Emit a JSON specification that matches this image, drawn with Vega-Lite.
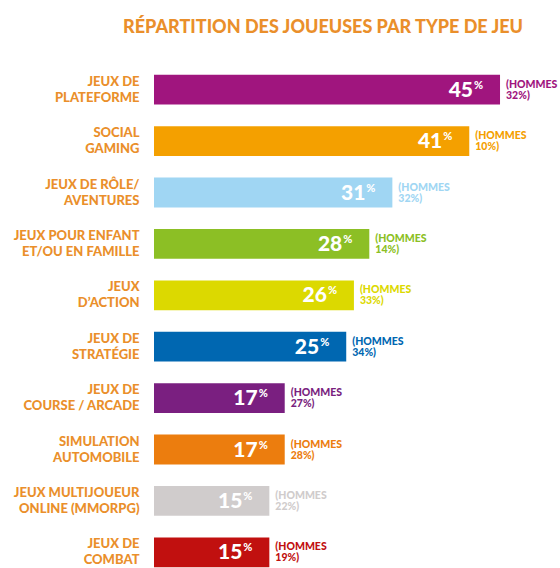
{
  "$schema": "https://vega.github.io/schema/vega-lite/v6.json",
  "width": 406,
  "height": 514,
  "autosize": {"type": "none"},
  "padding": {"left": 154, "top": 64, "right": 0, "bottom": 0},
  "background": "white",
  "title": {
    "text": "RÉPARTITION DES JOUEUSES PAR TYPE DE JEU",
    "anchor": "middle",
    "dx": -34,
    "offset": 27,
    "fontSize": 18,
    "font": "Lato",
    "fontWeight": 900,
    "color": "#EA8F2B"
  },
  "config": {"view": {"stroke": null}, "font": "Lato"},
  "data": {
    "values": [
      {"jeu": "JEUX DE|PLATEFORME", "femmes": 45, "hommes": 32},
      {"jeu": "SOCIAL|GAMING", "femmes": 41, "hommes": 10},
      {"jeu": "JEUX DE RÔLE/|AVENTURES", "femmes": 31, "hommes": 32},
      {"jeu": "JEUX POUR ENFANT|ET/OU EN FAMILLE", "femmes": 28, "hommes": 14},
      {"jeu": "JEUX|D’ACTION", "femmes": 26, "hommes": 33},
      {"jeu": "JEUX DE|STRATÉGIE", "femmes": 25, "hommes": 34},
      {"jeu": "JEUX DE|COURSE / ARCADE", "femmes": 17, "hommes": 27},
      {"jeu": "SIMULATION|AUTOMOBILE", "femmes": 17, "hommes": 28},
      {"jeu": "JEUX MULTIJOUEUR|ONLINE (MMORPG)", "femmes": 15, "hommes": 22},
      {"jeu": "JEUX DE|COMBAT", "femmes": 15, "hommes": 19}
    ]
  },
  "encoding": {
    "y": {
      "field": "jeu",
      "type": "nominal",
      "sort": null,
      "scale": {"paddingInner": 0.42, "paddingOuter": 0.21},
      "axis": {
        "title": null,
        "domain": false,
        "ticks": false,
        "labelPadding": 15,
        "labelOffset": -8,
        "labelFontSize": 13,
        "labelFont": "Lato",
        "labelFontWeight": 900,
        "labelColor": "#EA8F2B",
        "labelLineHeight": 16,
        "labelLimit": 200,
        "labelExpr": "split(datum.label, '|')"
      }
    },
    "x": {
      "field": "femmes",
      "type": "quantitative",
      "scale": {"domain": [0, 52.8], "nice": false},
      "axis": null
    },
    "color": {
      "field": "jeu",
      "type": "nominal",
      "sort": null,
      "legend": null,
      "scale": {
        "domain": ["JEUX DE|PLATEFORME", "SOCIAL|GAMING", "JEUX DE RÔLE/|AVENTURES", "JEUX POUR ENFANT|ET/OU EN FAMILLE", "JEUX|D’ACTION", "JEUX DE|STRATÉGIE", "JEUX DE|COURSE / ARCADE", "SIMULATION|AUTOMOBILE", "JEUX MULTIJOUEUR|ONLINE (MMORPG)", "JEUX DE|COMBAT"],
        "range": ["#A0157E", "#F4A000", "#A0D6F3", "#8CBF25", "#DCD900", "#0067B1", "#7A1F80", "#EC7D0E", "#D0CCCC", "#C1100F"]
      }
    }
  },
  "layer": [
    {"mark": {"type": "bar"}},
    {
      "mark": {"type": "text", "align": "right", "baseline": "alphabetic", "dx": -27, "dy": 7, "fontSize": 21, "fontWeight": 900, "font": "Lato", "color": "white"},
      "encoding": {"text": {"field": "femmes", "type": "quantitative"}, "color": {"value": "white"}}
    },
    {
      "mark": {"type": "text", "align": "left", "baseline": "alphabetic", "dx": -26, "dy": -1, "fontSize": 11, "fontWeight": 900, "font": "Lato", "text": "%"},
      "encoding": {"color": {"value": "white"}}
    },
    {
      "mark": {"type": "text", "align": "left", "baseline": "middle", "dx": 6, "dy": -5, "fontSize": 10.5, "lineHeight": 11, "fontWeight": 900, "font": "Lato", "text": {"expr": "['(HOMMES', datum.hommes + '%)']"}}
    }
  ]
}
